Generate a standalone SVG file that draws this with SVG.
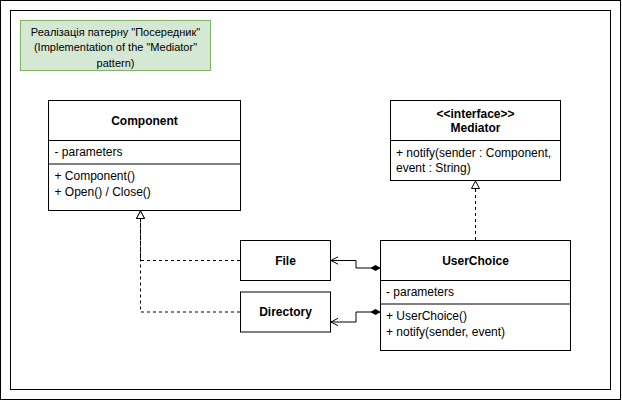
<svg xmlns="http://www.w3.org/2000/svg" width="622" height="401" viewBox="0 0 622 401">
  <style>
    .box { fill: #ffffff; stroke: #000000; stroke-width: 1; }
    .sep { stroke: #000000; stroke-width: 1; fill: none; }
    .t { font-family: "Liberation Sans", Arial, sans-serif; font-size: 12px; fill: #000000; }
    .b { font-weight: bold; text-anchor: middle; }
    .note { font-family: "Liberation Sans", Arial, sans-serif; font-size: 11px; fill: #000000; text-anchor: middle; }
    .edge { fill: none; stroke: #000000; stroke-width: 1; }
    .dash { stroke-dasharray: 3 3; }
  </style>
  <defs>
    <marker id="realize" markerUnits="userSpaceOnUse" markerWidth="12" markerHeight="12" refX="8" refY="4.5" orient="auto">
      <path d="M0.5,0.5 L8,4.5 L0.5,8.5 Z" fill="#ffffff" stroke="#000000" stroke-width="1"/>
    </marker>
    <marker id="open" markerUnits="userSpaceOnUse" markerWidth="12" markerHeight="12" refX="7.5" refY="4.5" orient="auto">
      <path d="M0.5,0.8 L7.5,4.5 L0.5,8.2" fill="none" stroke="#000000" stroke-width="1"/>
    </marker>
    <marker id="diamond" markerUnits="userSpaceOnUse" markerWidth="12" markerHeight="8" refX="0" refY="3" orient="auto">
      <path d="M0,3 L4.5,0.3 L9,3 L4.5,5.7 Z" fill="#000000" stroke="#000000" stroke-width="0.6"/>
    </marker>
  </defs>

  <g id="frame">
    <rect x="0.5" y="0.5" width="620" height="399" fill="#ffffff" stroke="#000000" stroke-width="1"/>
    <rect x="10.5" y="10.5" width="600" height="379" fill="#ffffff" stroke="#000000" stroke-width="1"/>
  </g>

  <g id="note">
    <rect x="20.5" y="20.5" width="190" height="50" fill="#d5e8d4" stroke="#82b366" stroke-width="1"/>
    <text class="note" x="115.5" y="35.5">Реалізація патерну "Посередник"</text>
    <text class="note" x="115.5" y="51">(Implementation of the "Mediator"</text>
    <text class="note" x="115.5" y="66.5">pattern)</text>
  </g>

  <g id="connectors">
    <path class="edge dash" d="M240,260.5 H140.5 V211" marker-end="url(#realize)"/>
    <path class="edge dash" d="M240,312 H140.5 V211" marker-end="url(#realize)"/>
    <path class="edge dash" d="M475.5,240 V181" marker-end="url(#realize)"/>
    <path class="edge" d="M380,268 H356 V260.5 H331" marker-start="url(#diamond)" marker-end="url(#open)"/>
    <path class="edge" d="M380,312 H356 V322 H331" marker-start="url(#diamond)" marker-end="url(#open)"/>
  </g>

  <g id="component">
    <rect class="box" x="48.5" y="100.5" width="192" height="110"/>
    <line class="sep" x1="48.5" y1="140.5" x2="240.5" y2="140.5"/>
    <line class="sep" x1="48.5" y1="164" x2="240.5" y2="164"/>
    <text class="t b" x="144.5" y="124.5">Component</text>
    <text class="t" x="54.5" y="156">- parameters</text>
    <text class="t" x="54.5" y="180">+ Component()</text>
    <text class="t" x="54.5" y="196">+ Open() / Close()</text>
  </g>

  <g id="mediator">
    <rect class="box" x="390.5" y="100.5" width="170" height="80"/>
    <line class="sep" x1="390.5" y1="140.5" x2="560.5" y2="140.5"/>
    <text class="t b" x="475.5" y="118">&lt;&lt;interface&gt;&gt;</text>
    <text class="t b" x="475.5" y="132">Mediator</text>
    <text class="t" x="396" y="157">+ notify(sender : Component,</text>
    <text class="t" x="396" y="172">event : String)</text>
  </g>

  <g id="file">
    <rect class="box" x="240.5" y="240.5" width="90" height="40"/>
    <text class="t b" x="285.5" y="264.5">File</text>
  </g>

  <g id="directory">
    <rect class="box" x="240.5" y="292" width="90" height="40"/>
    <text class="t b" x="285.5" y="316">Directory</text>
  </g>

  <g id="userchoice">
    <rect class="box" x="380.5" y="240.5" width="190" height="110"/>
    <line class="sep" x1="380.5" y1="280.5" x2="570.5" y2="280.5"/>
    <line class="sep" x1="380.5" y1="304" x2="570.5" y2="304"/>
    <text class="t b" x="475.5" y="264.5">UserChoice</text>
    <text class="t" x="386" y="296">- parameters</text>
    <text class="t" x="386" y="320">+ UserChoice()</text>
    <text class="t" x="386" y="336">+ notify(sender, event)</text>
  </g>
</svg>
